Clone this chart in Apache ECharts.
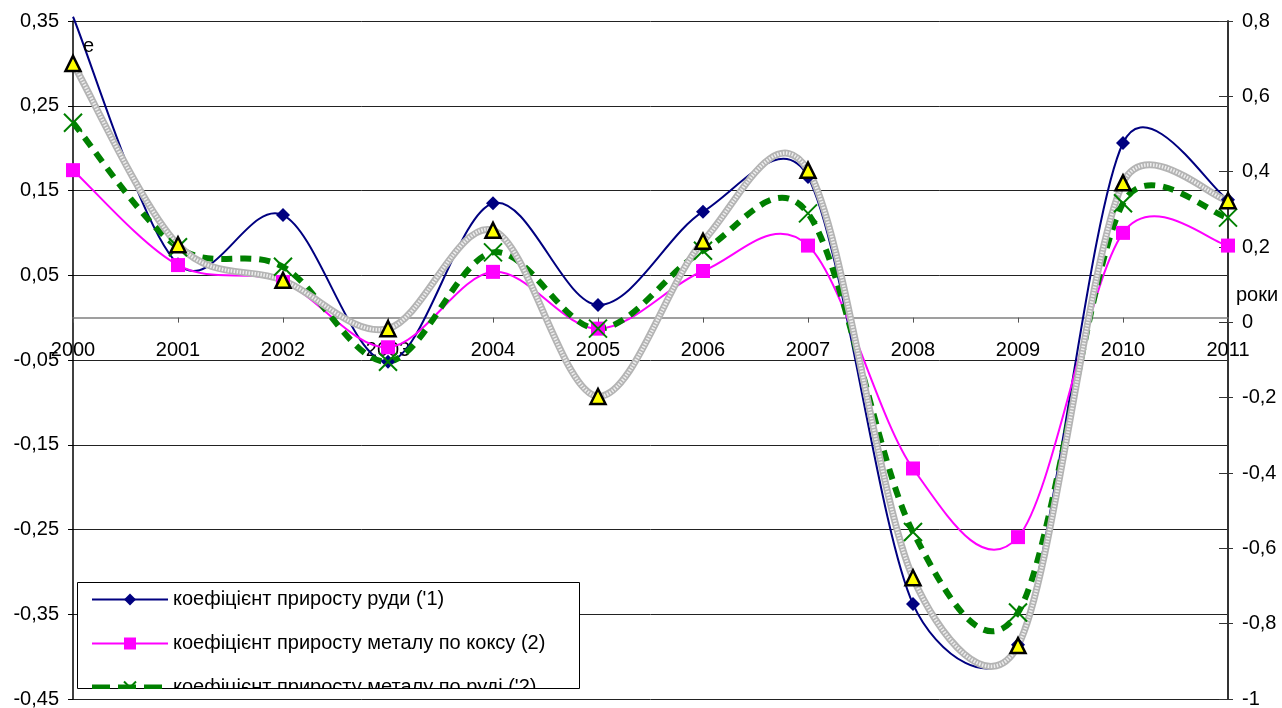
<!DOCTYPE html>
<html>
<head>
<meta charset="utf-8">
<title>Коефіцієнти приросту</title>
<script src="https://cdn.jsdelivr.net/npm/echarts@6/dist/echarts.min.js"></script>
<style>
  html, body { margin: 0; padding: 0; background: #fff; }
  #chart { width: 1282px; height: 708px; }
</style>
</head>
<body>
<div id="chart"></div>
<script>
// Years on the category axis
const years = ['2000', '2001', '2002', '2003', '2004', '2005', '2006', '2007', '2008', '2009', '2010', '2011'];

// Growth coefficients by year
const oreGrowth = [0.355, 0.063, 0.121, -0.052, 0.135, 0.015, 0.125, 0.166, -0.338, -0.386, 0.206, 0.139];
const metalByCoke = [0.174, 0.062, 0.042, -0.035, 0.054, -0.013, 0.055, 0.085, -0.178, -0.259, 0.100, 0.085];
const metalByOre = [0.230, 0.083, 0.060, -0.052, 0.077, -0.013, 0.079, 0.123, -0.253, -0.348, 0.135, 0.118];
const fourthSeries = [0.300, 0.086, 0.044, -0.013, 0.103, -0.093, 0.090, 0.174, -0.307, -0.387, 0.159, 0.138];

// Series names shown in the legend
const seriesNames = [
  "коефіцієнт приросту руди ('1)",
  'коефіцієнт приросту металу по коксу (2)',
  "коефіцієнт приросту металу по руді ('2)"
];

// Axis ranges
const leftAxis = { min: -0.45, max: 0.35, step: 0.1 };
const rightAxis = { min: -1, max: 0.8, step: 0.2 };

const FONT = '"Liberation Sans", Arial, sans-serif';
const NAVY = '#000080', MAGENTA = '#ff00ff', GREEN = '#008000';

const fmtComma = (v, d) => String(Number(v.toFixed(d))).replace('.', ',');

// Plot frame
const frame = { left: 73, right: 54, top: 21, bottom: 9 };
const plotHeight = 708 - frame.top - frame.bottom;
// pixel distance from the top edge down to the zero line of the left axis
const zeroOffset = plotHeight * (leftAxis.max - 0) / (leftAxis.max - leftAxis.min);

// Tangent offset for a Bezier control point: Catmull-Rom direction,
// length capped at half of the segment it belongs to.
function controlOffset(a, b, segLen) {
  let dx = (b[0] - a[0]) / 6;
  let dy = (b[1] - a[1]) / 6;
  const mag = Math.hypot(dx, dy);
  const cap = 0.5 * segLen;
  if (mag > cap && mag > 0) {
    dx *= cap / mag;
    dy *= cap / mag;
  }
  return [dx, dy];
}

// Smoothed curve through the data points, positioned with the axis scales via api.coord.
function curveRenderer(values, style) {
  return function (params, api) {
    if (params.dataIndex !== 0) return null;
    const pts = values.map((v, i) => api.coord([i, v]));
    const n = pts.length;
    let d = 'M' + pts[0][0] + ',' + pts[0][1];
    for (let i = 0; i < n - 1; i++) {
      const p0 = pts[Math.max(i - 1, 0)];
      const p1 = pts[i];
      const p2 = pts[i + 1];
      const p3 = pts[Math.min(i + 2, n - 1)];
      const seg = Math.hypot(p2[0] - p1[0], p2[1] - p1[1]);
      const o1 = controlOffset(p0, p2, seg);
      const o2 = controlOffset(p1, p3, seg);
      const c1x = p1[0] + o1[0], c1y = p1[1] + o1[1];
      const c2x = p2[0] - o2[0], c2y = p2[1] - o2[1];
      d += ' C' + c1x + ',' + c1y + ' ' + c2x + ',' + c2y + ' ' + p2[0] + ',' + p2[1];
    }
    return {
      type: 'path',
      shape: { pathData: d },
      style: Object.assign({ fill: 'none', lineCap: 'butt', lineJoin: 'round' }, style),
      silent: true
    };
  };
}

function curveSeries(name, values, style) {
  return {
    name: name,
    type: 'custom',
    xAxisIndex: 0,
    yAxisIndex: 0,
    data: values.map((v, i) => [i, v]),
    encode: { x: 0, y: 1 },
    renderItem: curveRenderer(values, style),
    silent: true,
    z: 2
  };
}

function markerSeries(name, values, symbol, size, itemStyle) {
  return {
    name: name,
    type: 'line',
    xAxisIndex: 0,
    yAxisIndex: 0,
    data: values,
    symbol: symbol,
    symbolSize: size,
    showAllSymbol: true,
    lineStyle: { opacity: 0 },
    itemStyle: itemStyle,
    z: 4
  };
}

const chart = echarts.init(document.getElementById('chart'), null, { renderer: 'canvas' });

const option = {
  backgroundColor: '#ffffff',
  animation: false,
  textStyle: { fontFamily: FONT },
  grid: [
    Object.assign({ containLabel: false, outerBoundsMode: 'none' }, frame),
    // band above the zero line, carries the year labels
    { left: frame.left, right: frame.right, top: frame.top, height: zeroOffset,
      containLabel: false, outerBoundsMode: 'none' }
  ],
  legend: {
    data: [
      { name: seriesNames[0], lineStyle: { color: NAVY, width: 2, opacity: 1 } },
      { name: seriesNames[1], lineStyle: { color: MAGENTA, width: 2, opacity: 1 } },
      { name: seriesNames[2], lineStyle: { color: GREEN, width: 6, opacity: 1, type: [18, 8] } }
    ],
    orient: 'vertical',
    left: 89,
    top: 589,
    padding: 0,
    itemWidth: 76,
    itemHeight: 15,
    itemGap: 23,
    textStyle: { fontFamily: FONT, fontSize: 20, color: '#000', lineHeight: 21 },
    z: 6
  },
  xAxis: [
    {
      type: 'category',
      gridIndex: 0,
      data: years,
      boundaryGap: false,
      axisLine: { onZero: true, onZeroAxisIndex: 0, lineStyle: { color: '#808080', width: 1.5 } },
      axisTick: { show: false },
      axisLabel: { show: false },
      splitLine: { show: false }
    },
    {
      type: 'category',
      gridIndex: 1,
      data: years,
      boundaryGap: false,
      position: 'bottom',
      axisLine: { show: false, onZero: false },
      axisTick: { show: true, length: 5, lineStyle: { color: '#555' } },
      axisLabel: { color: '#000', fontSize: 20, fontFamily: FONT, margin: 23 },
      splitLine: { show: false }
    }
  ],
  yAxis: [
    {
      type: 'value',
      gridIndex: 0,
      position: 'left',
      min: leftAxis.min,
      max: leftAxis.max,
      interval: leftAxis.step,
      axisLine: { show: true, lineStyle: { color: '#000', width: 1.5 } },
      axisTick: { show: true, length: 5, lineStyle: { color: '#000' } },
      axisLabel: { color: '#000', fontSize: 20, fontFamily: FONT, margin: 14,
        formatter: v => fmtComma(v, 2) },
      splitLine: { show: true, lineStyle: { color: '#222', width: 1 } }
    },
    {
      type: 'value',
      gridIndex: 0,
      position: 'right',
      min: rightAxis.min,
      max: rightAxis.max,
      interval: rightAxis.step,
      axisLine: { show: true, lineStyle: { color: '#333', width: 2 } },
      axisTick: { show: true, length: 5, lineStyle: { color: '#333' } },
      axisLabel: { color: '#000', fontSize: 20, fontFamily: FONT, margin: 14,
        formatter: v => fmtComma(v, 1) },
      splitLine: { show: false }
    },
    {
      // inner half of the crossing ticks on the right axis
      type: 'value',
      gridIndex: 0,
      position: 'right',
      min: rightAxis.min,
      max: rightAxis.max,
      interval: rightAxis.step,
      axisLine: { show: false },
      axisTick: { show: true, inside: true, length: 9, lineStyle: { color: '#333' } },
      axisLabel: { show: false },
      splitLine: { show: false }
    },
    {
      type: 'value',
      gridIndex: 1,
      show: false,
      min: 0,
      max: 1
    }
  ],
  series: [
    curveSeries('лінія 1', oreGrowth, { stroke: NAVY, lineWidth: 2 }),
    curveSeries('лінія 2', metalByCoke, { stroke: MAGENTA, lineWidth: 2 }),
    curveSeries('лінія 3', metalByOre, { stroke: GREEN, lineWidth: 6, lineDash: [11, 8] }),
    curveSeries('лінія 4', fourthSeries, { stroke: '#b4b4b4', lineWidth: 7 }),
    curveSeries('лінія 4 точки', fourthSeries, { stroke: '#eeeeee', lineWidth: 3.5, lineDash: [1.5, 1.5] }),

    markerSeries(seriesNames[0], oreGrowth, 'diamond', 14, { color: NAVY }),
    markerSeries(seriesNames[1], metalByCoke, 'rect', 14, { color: MAGENTA }),
    markerSeries(seriesNames[2], metalByOre, 'path://M0,0L20,20M20,0L0,20', 18,
      { color: GREEN, borderColor: GREEN, borderWidth: 2 }),
    markerSeries('ряд 4', fourthSeries, 'triangle', 15,
      { color: '#ffff00', borderColor: '#000', borderWidth: 2.5 })
  ],
  graphic: [
    {
      type: 'rect',
      shape: { x: 77.5, y: 582.5, width: 502, height: 106 },
      style: { fill: '#fff', stroke: '#000', lineWidth: 1 },
      z: 5
    },
    {
      // lower part of the legend box is cut off by the frame
      type: 'rect',
      shape: { x: 78, y: 689, width: 501, height: 9 },
      style: { fill: '#fff' },
      z: 100
    },
    {
      type: 'text',
      left: 83,
      top: 36,
      style: { text: 'e', fontSize: 20, fontFamily: FONT, fill: '#000' },
      z: 100
    },
    {
      type: 'text',
      left: 1236,
      top: 285,
      style: { text: 'роки', fontSize: 20, fontFamily: FONT, fill: '#000' },
      z: 100
    }
  ]
};

chart.setOption(option);
</script>
</body>
</html>
